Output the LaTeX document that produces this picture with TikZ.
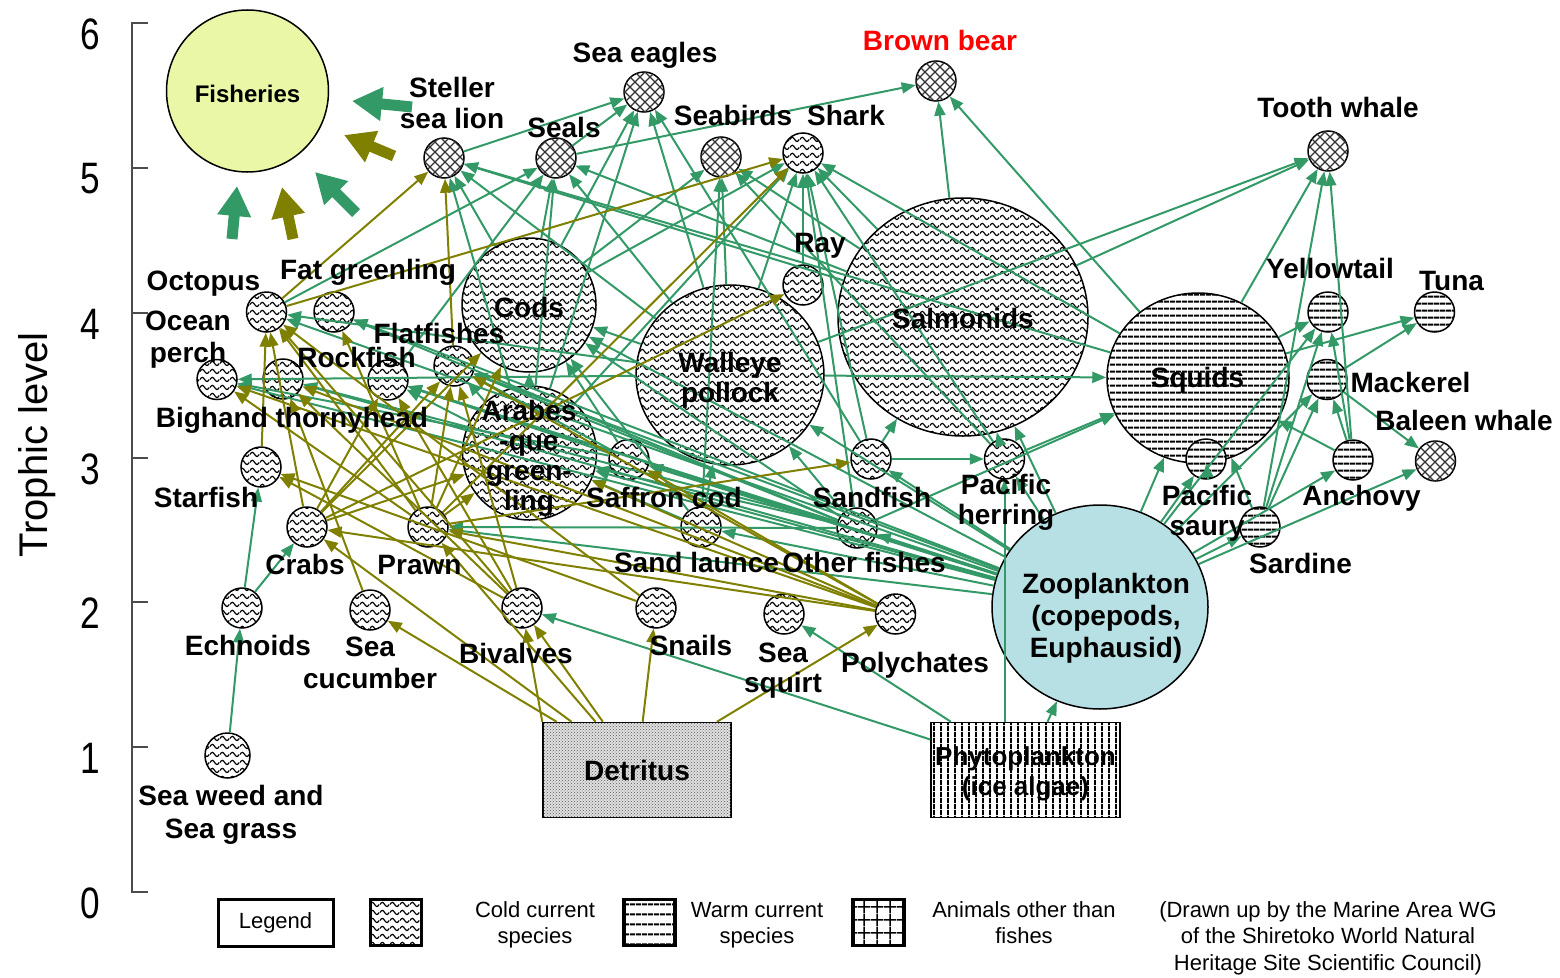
\documentclass[tikz,border=0pt]{standalone}
\usepackage{fontspec}
\setmainfont{Liberation Sans}
\usetikzlibrary{arrows.meta,patterns,shapes.geometric}
\definecolor{grn}{RGB}{51,153,102}
\definecolor{olv}{RGB}{128,128,0}
\definecolor{zoofill}{RGB}{183,224,228}
\definecolor{fishfill}{RGB}{234,247,166}
\pgfdeclarepatternformonly{wavy}{\pgfpoint{0pt}{0pt}}{\pgfpoint{10pt}{7.5pt}}{\pgfpoint{10pt}{7.5pt}}{%
 \pgfsetlinewidth{1.25pt}%
 \pgfpathmoveto{\pgfpoint{0pt}{3.75pt}}%
 \pgfpathsine{\pgfpoint{2.5pt}{2.2pt}}%
 \pgfpathcosine{\pgfpoint{2.5pt}{-2.2pt}}%
 \pgfpathsine{\pgfpoint{2.5pt}{-2.2pt}}%
 \pgfpathcosine{\pgfpoint{2.5pt}{2.2pt}}%
 \pgfusepath{stroke}}
\pgfdeclarepatternformonly{xhatch}{\pgfpoint{-1pt}{-1pt}}{\pgfpoint{11pt}{11pt}}{\pgfpoint{10pt}{10pt}}{%
 \pgfsetlinewidth{1.2pt}%
 \pgfpathmoveto{\pgfpoint{0pt}{0pt}}\pgfpathlineto{\pgfpoint{10pt}{10pt}}%
 \pgfpathmoveto{\pgfpoint{0pt}{10pt}}\pgfpathlineto{\pgfpoint{10pt}{0pt}}%
 \pgfusepath{stroke}}
\pgfdeclarepatternformonly{hl}{\pgfpoint{0pt}{0pt}}{\pgfpoint{6pt}{7.3pt}}{\pgfpoint{6pt}{7.3pt}}{%
 \pgfsetlinewidth{2pt}%
 \pgfpathmoveto{\pgfpoint{0pt}{3.65pt}}\pgfpathlineto{\pgfpoint{6pt}{3.65pt}}%
 \pgfusepath{stroke}}
\pgfdeclarepatternformonly{hlw}{\pgfpoint{0pt}{0pt}}{\pgfpoint{6pt}{9.5pt}}{\pgfpoint{6pt}{9.5pt}}{%
 \pgfsetlinewidth{2pt}%
 \pgfpathmoveto{\pgfpoint{0pt}{4.75pt}}\pgfpathlineto{\pgfpoint{6pt}{4.75pt}}%
 \pgfusepath{stroke}}
\pgfdeclarepatternformonly{vl}{\pgfpoint{0pt}{0pt}}{\pgfpoint{7pt}{6pt}}{\pgfpoint{7pt}{6pt}}{%
 \pgfsetlinewidth{2pt}%
 \pgfpathmoveto{\pgfpoint{3.5pt}{0pt}}\pgfpathlineto{\pgfpoint{3.5pt}{6pt}}%
 \pgfusepath{stroke}}
\pgfdeclarepatternformonly{grd}{\pgfpoint{0pt}{0pt}}{\pgfpoint{13pt}{13pt}}{\pgfpoint{13pt}{13pt}}{%
 \pgfsetlinewidth{1.5pt}%
 \pgfpathmoveto{\pgfpoint{6.5pt}{0pt}}\pgfpathlineto{\pgfpoint{6.5pt}{13pt}}%
 \pgfpathmoveto{\pgfpoint{0pt}{6.5pt}}\pgfpathlineto{\pgfpoint{13pt}{6.5pt}}%
 \pgfusepath{stroke}}
\newcommand\ml[2][32]{\vtop{\baselineskip=#1pt\lineskiplimit=-100pt\halign{\hfil##\hfil\cr#2\crcr}}}
\begin{document}
\begin{tikzpicture}[x=1pt,y=-1pt,
 sp/.style={circle, draw=black, line width=1.5pt, minimum size=40pt, inner sep=0pt, fill=white},
 cold/.style={sp, postaction={pattern=wavy}},
 xh/.style={sp, postaction={pattern=xhatch, pattern color=black!80}},
 warm/.style={sp, postaction={pattern=hl}},
 bigcold/.style={ellipse, draw=black, line width=1.5pt, inner sep=0pt, fill=white, postaction={pattern=wavy}},
 bigwarm/.style={ellipse, draw=black, line width=1.5pt, inner sep=0pt, fill=white, postaction={pattern=hl}},
 g/.style={draw=grn, line width=2pt, -{Triangle[length=14pt,width=11pt]}},
 o/.style={draw=olv, line width=2pt, -{Triangle[length=14pt,width=11pt]}},
 fat/.style={line width=11pt, -{Triangle[length=30pt,width=32pt]}},
 lb/.style={font=\bfseries\fontsize{28}{32}\selectfont, anchor=base, inner sep=0pt, outer sep=0pt},
 lg/.style={font=\fontsize{22}{26}\selectfont, anchor=base, inner sep=0pt, outer sep=0pt},
 num/.style={font=\fontsize{44}{44}\selectfont, inner sep=0pt},
 axisline/.style={draw=black!70, line width=1.2pt}]
\useasboundingbox (0,0) rectangle (1560,977);

% axis
\draw[axisline] (148,23) -- (132,23) -- (132,892) -- (148,892);
\foreach \t in {168,313,458,602,747} \draw[axisline] (132,\t) -- (148,\t);
\node[num] (n6) at (90,34) {\scalebox{0.8}[1]{6}};
\node[num] (n5) at (90,179) {\scalebox{0.8}[1]{5}};
\node[num] (n4) at (90,324) {\scalebox{0.8}[1]{4}};
\node[num] (n3) at (90,469) {\scalebox{0.8}[1]{3}};
\node[num] (n2) at (90,613) {\scalebox{0.8}[1]{2}};
\node[num] (n1) at (90,758) {\scalebox{0.8}[1]{1}};
\node[num] (n0) at (90,903) {\scalebox{0.8}[1]{0}};
\node[rotate=90, anchor=base, inner sep=0pt, font=\fontsize{40}{40}\selectfont] (ylab) at (47,445) {Trophic level};

% nodes
\node[circle, draw=black, line width=1.5pt, fill=fishfill, minimum size=162pt, inner sep=0pt] (fish) at (247.5,91) {};
\node[xh] (sealion) at (444,158) {};
\node[xh] (eagles) at (644,92) {};
\node[xh] (seals) at (556,158) {};
\node[xh] (seabirds) at (721,157) {};
\node[cold] (shark) at (803,153) {};
\node[xh] (bear) at (936,81) {};
\node[xh] (tooth) at (1328,151) {};
\node[cold] (ray) at (803,285) {};
\node[bigcold, minimum width=134pt, minimum height=134pt] (cods) at (529,305) {};
\node[bigcold, minimum width=188pt, minimum height=180pt] (walleye) at (730,375) {};
\node[bigcold, minimum width=250pt, minimum height=238pt] (salmon) at (963,317) {};
\node[bigwarm, minimum width=182pt, minimum height=170pt] (squids) at (1198,378) {};
\node[bigcold, minimum width=134pt, minimum height=134pt] (arabes) at (529.5,453) {};
\node[ellipse, draw=black, line width=1.5pt, fill=zoofill, inner sep=0pt, minimum width=216pt, minimum height=204pt] (zoo) at (1100,607) {};
\node[cold] (octopus) at (266.5,312) {};
\node[cold] (fatgreen) at (334,312) {};
\node[cold] (oceanperch) at (217,379.5) {};
\node[cold] (bighand) at (283,379) {};
\node[cold] (rockfish) at (388,380) {};
\node[cold] (flat) at (454,366) {};
\node[cold] (starfish) at (261,467) {};
\node[cold] (crabs) at (307,527) {};
\node[cold] (prawn) at (428,527) {};
\node[cold] (saffron) at (629,459.5) {};
\node[cold] (sandlaunce) at (701,527) {};
\node[cold] (sandfish) at (871,459) {};
\node[cold] (other) at (857,528) {};
\node[cold] (herring) at (1004.5,459) {};
\node[cold] (echnoids) at (242,608) {};
\node[cold] (cucumber) at (370,610) {};
\node[cold] (bivalves) at (522,608) {};
\node[cold] (snails) at (656,608) {};
\node[cold] (squirt) at (784,614) {};
\node[cold] (polych) at (895.5,614) {};
\node[cold, minimum size=45pt] (seaweed) at (227.5,755.5) {};
\node[warm] (yellowtail) at (1328,312) {};
\node[warm] (tuna) at (1434.5,312) {};
\node[warm] (mackerel) at (1327,379.5) {};
\node[xh] (baleen) at (1435.5,461) {};
\node[warm] (anchovy) at (1353,460) {};
\node[warm] (saury) at (1206,459) {};
\node[warm] (sardine) at (1260,527) {};
\node[rectangle, draw=black, line width=1.5pt, minimum width=188pt, minimum height=95pt, fill=black!12, postaction={pattern=crosshatch dots, pattern color=black!65}] (detritus) at (637,770) {};
\node[rectangle, draw=black, line width=1.5pt, minimum width=189pt, minimum height=95pt, fill=white, postaction={pattern=vl}] (phyto) at (1025.5,770) {};

% green links
\foreach \a/\b in {sealion/eagles, seals/eagles, cods/eagles, arabes/eagles, walleye/eagles, sandfish/eagles,
 seals/bear, salmon/bear, squids/bear,
 octopus/seals, cods/seals, rockfish/seals, walleye/seals, salmon/seals, arabes/seals,
 cods/sealion, walleye/sealion, salmon/sealion, squids/sealion, arabes/sealion,
 cods/seabirds, walleye/seabirds, salmon/seabirds, sandlaunce/seabirds, herring/seabirds,
 walleye/shark, salmon/shark, ray/shark, sandfish/shark, cods/shark, arabes/shark, squids/shark, herring/shark, other/shark,
 salmon/tooth, walleye/tooth, squids/tooth, sardine/tooth, anchovy/tooth,
 squids/yellowtail, squids/tuna, mackerel/tuna, sardine/yellowtail, sardine/mackerel, anchovy/yellowtail, anchovy/mackerel,
 anchovy/squids, sardine/squids, mackerel/baleen,
 zoo/baleen, zoo/anchovy, zoo/sardine, zoo/saury, zoo/mackerel, zoo/yellowtail, zoo/squids, zoo/salmon, zoo/herring,
 zoo/sandfish, zoo/other, zoo/walleye, zoo/sandlaunce, zoo/saffron, zoo/arabes, zoo/prawn, zoo/flat, zoo/rockfish,
 zoo/bighand, zoo/oceanperch, zoo/fatgreen, zoo/octopus, zoo/cods,
 herring/squids, herring/salmon, sandfish/salmon, sandfish/herring, saury/squids, other/squids, walleye/squids,
 walleye/octopus, walleye/oceanperch, saffron/oceanperch, saffron/rockfish, saffron/flat, sandlaunce/arabes, sandlaunce/cods,
 other/flat, other/rockfish, other/bighand, other/walleye, other/cods, sandlaunce/walleye, saffron/cods, walleye/cods,
 arabes/cods, arabes/flat, arabes/rockfish, other/fatgreen, other/arabes, other/saffron, other/prawn,
 phyto/zoo, phyto/squirt, phyto/bivalves,
 seaweed/echnoids, echnoids/starfish, echnoids/crabs}
 \draw[g] (\a) -- (\b);
\draw[g] (phyto.north -| herring) -- (herring);

% olive links
\foreach \a/\b in {octopus/sealion, octopus/shark, flat/sealion, prawn/shark, crabs/ray,
 detritus/bivalves, detritus/snails, detritus/polych, detritus/cucumber, detritus/crabs, detritus/prawn,
 bivalves/octopus, bivalves/starfish, bivalves/flat, bivalves/bighand, bivalves/rockfish,
 polych/crabs, polych/prawn, polych/saffron, polych/arabes, polych/flat, polych/oceanperch, polych/bighand,
 snails/starfish, snails/octopus,
 prawn/octopus, prawn/cods, prawn/flat, prawn/arabes, prawn/fatgreen, prawn/sandfish, prawn/oceanperch,
 crabs/octopus, crabs/flat, crabs/rockfish, crabs/cods, crabs/arabes,
 starfish/octopus, cucumber/bighand}
 \draw[o] (\a) -- (\b);
\draw[o] (detritus.north west) -- (bivalves);

% labels
\node[lb, font=\bfseries\fontsize{24}{28}\selectfont] (tfish) at (247.5,102) {Fisheries};
\node[lb] (tsealion) at (452,97) {\ml[31]{Steller\cr sea lion}};
\node[lb] (teagles) at (645,62) {Sea eagles};
\node[lb] (tseals) at (564,137) {Seals};
\node[lb] (tseabirds) at (733,125) {Seabirds};
\node[lb] (tshark) at (846,125) {Shark};
\node[lb, text=red] (tbear) at (940,50) {Brown bear};
\node[lb] (ttooth) at (1338,117) {Tooth whale};
\node[lb] (tray) at (820,252) {Ray};
\node[lb] (tcods) at (529,317) {Cods};
\node[lb] (twalleye) at (730,372) {\ml[30]{Walleye\cr pollock}};
\node[lb] (tsalmon) at (963,328) {Salmonids};
\node[lb] (tsquids) at (1197.5,387) {Squids};
\node[lb] (tarabes) at (529,420) {\ml[30]{Arabes\cr -que\cr green-\cr ling}};
\node[lb] (tzoo) at (1106,593) {\ml[32]{Zooplankton\cr (copepods,\cr Euphausid)}};
\node[lb] (toctopus) at (203.5,290) {Octopus};
\node[lb] (tfatgreen) at (368,279) {Fat greenling};
\node[lb] (toceanperch) at (188,330) {\ml[32]{Ocean\cr perch}};
\node[lb] (trockfish) at (356.5,367) {Rockfish};
\node[lb] (tflat) at (439,343) {Flatfishes};
\node[lb] (tbighand) at (292,427) {Bighand thornyhead};
\node[lb] (tstarfish) at (206,507) {Starfish};
\node[lb] (tcrabs) at (305,574) {Crabs};
\node[lb] (tprawn) at (419.5,574) {Prawn};
\node[lb] (tsaffron) at (664,507) {Saffron cod};
\node[lb] (tsandlaunce) at (696.5,572) {Sand launce};
\node[lb] (tother) at (864,572) {Other fishes};
\node[lb] (tsandfish) at (872,507) {Sandfish};
\node[lb] (therring) at (1006,494) {\ml[30]{Pacific\cr herring}};
\node[lb] (technoids) at (248,655) {Echnoids};
\node[lb] (tcucumber) at (370,656) {\ml[32]{Sea\cr cucumber}};
\node[lb] (tbivalves) at (516,663) {Bivalves};
\node[lb] (tsnails) at (691,655) {Snails};
\node[lb] (tsquirt) at (783,662) {\ml[30]{Sea\cr squirt}};
\node[lb] (tpolych) at (915,672) {Polychates};
\node[lb] (tseaweed) at (231,805) {\ml[33]{Sea weed and\cr Sea grass}};
\node[lb] (tyellowtail) at (1330,278) {Yellowtail};
\node[lb] (ttuna) at (1451.5,290) {Tuna};
\node[lb] (tmackerel) at (1410.5,392) {Mackerel};
\node[lb] (tbaleen) at (1464,430) {Baleen whale};
\node[lb] (tanchovy) at (1361.5,505) {Anchovy};
\node[lb] (tsaury) at (1207,505) {\ml[30]{Pacific\cr saury}};
\node[lb] (tsardine) at (1300.5,573) {Sardine};
\node[lb] (tdetritus) at (637,780) {Detritus};
\node[lb, font=\bfseries\fontsize{26}{30}\selectfont] (tphyto) at (1025.5,765) {\ml[30]{Phytoplankton\cr (ice algae)}};

% legend
\node[rectangle, draw=black, line width=3pt, minimum width=115pt, minimum height=47pt, inner sep=0pt, font=\fontsize{22}{26}\selectfont] (legend) at (275.5,922.5) {Legend};
\node[rectangle, draw=black, line width=3.5pt, minimum width=51pt, minimum height=46pt, fill=white, postaction={pattern=wavy}] (kcold) at (396,922.5) {};
\node[rectangle, draw=black, line width=3.5pt, minimum width=51pt, minimum height=46pt, fill=white, postaction={pattern=hlw}] (kwarm) at (649.5,922.5) {};
\node[rectangle, draw=black, line width=3.5pt, minimum width=51pt, minimum height=46pt, fill=white, postaction={pattern=grd}] (kgrid) at (878.5,922.5) {};
\node[lg] (tcold) at (535,917) {\ml[26]{Cold current\cr species}};
\node[lg] (twarm) at (757,917) {\ml[26]{Warm current\cr species}};
\node[lg] (tanimals) at (1024,917) {\ml[26]{Animals other than\cr fishes}};
\node[lg] (tcredit) at (1328,917) {\ml[26.5]{(Drawn up by the Marine Area WG\cr of the Shiretoko World Natural\cr Heritage Site Scientific Council)}};

% fat arrows to fisheries
\coordinate (f1s) at (412,107); \coordinate (f1e) at (352,101);
\coordinate (f2s) at (394,156); \coordinate (f2e) at (344,135);
\coordinate (f3s) at (356,213); \coordinate (f3e) at (315,172);
\coordinate (f4s) at (293,239); \coordinate (f4e) at (282,187);
\coordinate (f5s) at (232,239); \coordinate (f5e) at (237,186);
\draw[fat, draw=grn, fill=grn] (f1s) -- (f1e);
\draw[fat, draw=olv, fill=olv] (f2s) -- (f2e);
\draw[fat, draw=grn, fill=grn] (f3s) -- (f3e);
\draw[fat, draw=olv, fill=olv] (f4s) -- (f4e);
\draw[fat, draw=grn, fill=grn] (f5s) -- (f5e);
\end{tikzpicture}
\end{document}
